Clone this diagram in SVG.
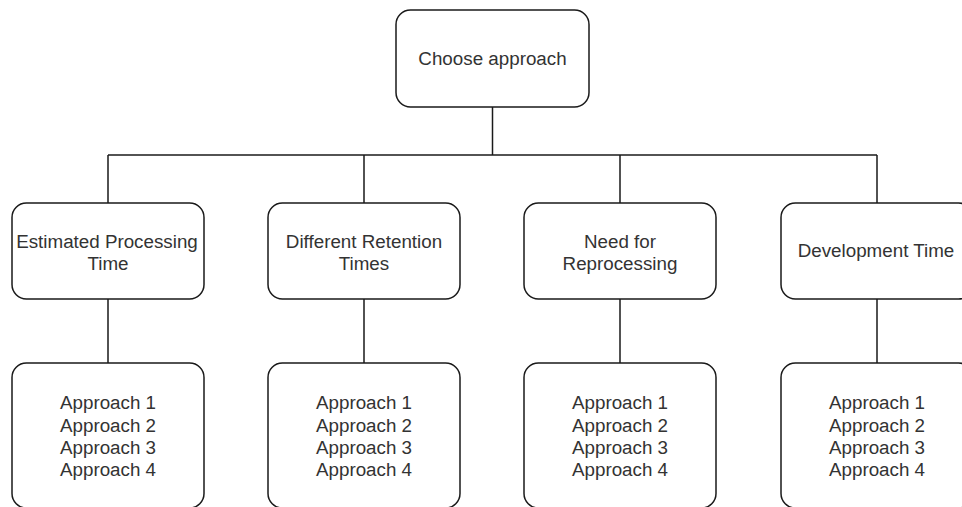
<svg xmlns="http://www.w3.org/2000/svg" width="962" height="507" viewBox="0 0 962 507">
  <style>
    .box { fill: #ffffff; stroke: #1a1a1a; stroke-width: 1.5; }
    .link { fill: none; stroke: #1a1a1a; stroke-width: 1.5; }
    .label { font-family: "Liberation Sans", Arial, Helvetica, sans-serif; font-size: 18.8px; fill: #333333; text-anchor: middle; }
  </style>
  <rect width="962" height="507" fill="#ffffff"/>

  <!-- tree connectors -->
  <g id="connectors">
    <path class="link" d="M492.5 107 V155"/>
    <path class="link" d="M108 155 H877"/>
    <path class="link" d="M108 155 V203 M364 155 V203 M620 155 V203 M877 155 V203"/>
    <path class="link" d="M108 299 V363 M364 299 V363 M620 299 V363 M877 299 V363"/>
  </g>

  <g id="root">
    <rect class="box" x="396" y="10" width="193" height="97" rx="14.5"/>
    <text class="label" x="492.5" y="65">Choose approach</text>
  </g>

  <g id="criterion-processing">
    <rect class="box" x="12" y="203" width="192" height="96" rx="14.4"/>
    <text class="label" x="107" y="248">Estimated Processing</text>
    <text class="label" x="108" y="270">Time</text>
  </g>
  <g id="criterion-retention">
    <rect class="box" x="268" y="203" width="192" height="96" rx="14.4"/>
    <text class="label" x="364" y="248">Different Retention</text>
    <text class="label" x="364" y="270">Times</text>
  </g>
  <g id="criterion-reprocessing">
    <rect class="box" x="524" y="203" width="192" height="96" rx="14.4"/>
    <text class="label" x="620" y="248">Need for</text>
    <text class="label" x="620" y="270">Reprocessing</text>
  </g>
  <g id="criterion-development">
    <rect class="box" x="781" y="203" width="192" height="96" rx="14.4"/>
    <text class="label" x="876" y="256.5">Development Time</text>
  </g>

  <g id="approaches-processing">
    <rect class="box" x="12" y="363" width="192" height="145" rx="14.4"/>
    <text class="label" x="108" y="409">Approach 1</text>
    <text class="label" x="108" y="431.5">Approach 2</text>
    <text class="label" x="108" y="453.5">Approach 3</text>
    <text class="label" x="108" y="476">Approach 4</text>
  </g>
  <g id="approaches-retention">
    <rect class="box" x="268" y="363" width="192" height="145" rx="14.4"/>
    <text class="label" x="364" y="409">Approach 1</text>
    <text class="label" x="364" y="431.5">Approach 2</text>
    <text class="label" x="364" y="453.5">Approach 3</text>
    <text class="label" x="364" y="476">Approach 4</text>
  </g>
  <g id="approaches-reprocessing">
    <rect class="box" x="524" y="363" width="192" height="145" rx="14.4"/>
    <text class="label" x="620" y="409">Approach 1</text>
    <text class="label" x="620" y="431.5">Approach 2</text>
    <text class="label" x="620" y="453.5">Approach 3</text>
    <text class="label" x="620" y="476">Approach 4</text>
  </g>
  <g id="approaches-development">
    <rect class="box" x="781" y="363" width="192" height="145" rx="14.4"/>
    <text class="label" x="877" y="409">Approach 1</text>
    <text class="label" x="877" y="431.5">Approach 2</text>
    <text class="label" x="877" y="453.5">Approach 3</text>
    <text class="label" x="877" y="476">Approach 4</text>
  </g>
</svg>
